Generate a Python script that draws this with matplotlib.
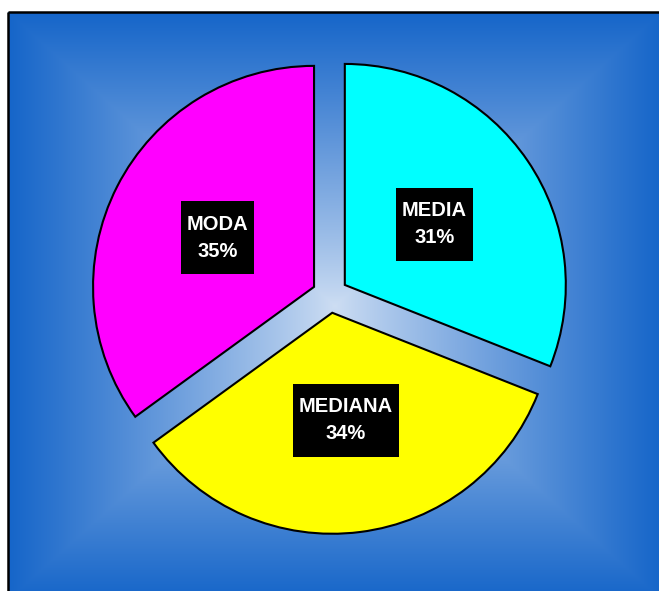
import numpy as np
import matplotlib
matplotlib.use("Agg")
import matplotlib.pyplot as plt
from matplotlib.patches import Rectangle

labels = ["MEDIA", "MEDIANA", "MODA"]
values = [31, 34, 35]
colors = ["#00FFFF", "#FFFF00", "#FF00FF"]

W, H = 659, 591
fig = plt.figure(figsize=(W / 100, H / 100), dpi=100)

# background: rectangular gradient, light in the middle, blue at the frame
bg = fig.add_axes([0, 0, 1, 1])
bg.set_xlim(0, W)
bg.set_ylim(H, 0)
bg.axis("off")

fx0, fy0, fx1, fy1 = 8, 12, 662, 600
cx, cy = (fx0 + fx1) / 2, (fy0 + fy1) / 2
xx, yy = np.meshgrid(np.arange(W) + 0.5, np.arange(H) + 0.5)
t = np.maximum(np.abs(xx - cx) / ((fx1 - fx0) / 2), np.abs(yy - cy) / ((fy1 - fy0) / 2))
t = np.clip(t, 0, 1) ** 0.9
c_in = np.array([206, 222, 243]) / 255
c_out = np.array([21, 101, 201]) / 255
img = c_in + (c_out - c_in) * t[..., None]
outside = (xx < fx0) | (yy < fy0)
img[outside] = 1.0
bg.imshow(img, extent=(0, W, H, 0), interpolation="bilinear")
bg.plot([fx0, W], [fy0, fy0], color="black", lw=1.8, solid_capstyle="butt")
bg.plot([fx0, fx0], [fy0, H], color="black", lw=1.8, solid_capstyle="butt")

# pie, centred at (330, 295) px with radius 221 px
pcx, pcy, R = 330, 295, 221
ax = fig.add_axes([(pcx - R) / W, (H - pcy - R) / H, 2 * R / W, 2 * R / H])
wedges, _ = ax.pie(values, colors=colors, startangle=90, counterclock=False,
                   explode=[0.081] * 3,
                   wedgeprops=dict(edgecolor="black", linewidth=1.5))
ax.set_xlim(-1, 1)
ax.set_ylim(-1, 1)
ax.axis("off")

renderer = fig.canvas.get_renderer()
for w, lab, v in zip(wedges, labels, values):
    w.set_clip_on(False)
    ang = np.deg2rad((w.theta1 + w.theta2) / 2)
    x = w.center[0] + 0.49 * np.cos(ang)
    y = w.center[1] + 0.49 * np.sin(ang)
    txt = ax.text(x, y, f"{lab}\n{v}%", color="white", fontsize=14.5,
                  fontweight="bold", family="Liberation Sans",
                  ha="center", va="center", linespacing=1.55, zorder=5)
    bb = txt.get_window_extent(renderer)
    bw = (bb.width + 12) / R
    bh = 73 / R
    ax.add_patch(Rectangle((x - bw / 2, y - bh / 2), bw, bh,
                           facecolor="black", edgecolor="none", zorder=4))

fig.savefig("out.png", dpi=100)
